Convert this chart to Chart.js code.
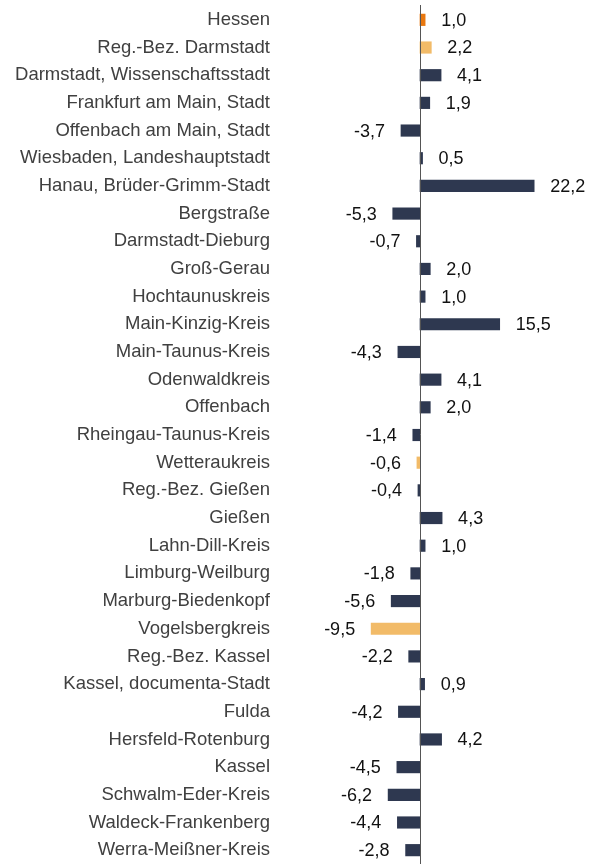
<!DOCTYPE html>
<html>
<head>
<meta charset="utf-8">
<script src="https://cdn.jsdelivr.net/npm/chart.js@4.4.0/dist/chart.umd.min.js"></script>
<style>
  body { margin: 0; background: #fff; }
</style>
</head>
<body>
<canvas id="myChart" width="604" height="864"></canvas>
<script>
// Kreise und Regierungsbezirke
const regionen = [
  "Hessen",
  "Reg.-Bez. Darmstadt",
  "Darmstadt, Wissenschaftsstadt",
  "Frankfurt am Main, Stadt",
  "Offenbach am Main, Stadt",
  "Wiesbaden, Landeshauptstadt",
  "Hanau, Brüder-Grimm-Stadt",
  "Bergstraße",
  "Darmstadt-Dieburg",
  "Groß-Gerau",
  "Hochtaunuskreis",
  "Main-Kinzig-Kreis",
  "Main-Taunus-Kreis",
  "Odenwaldkreis",
  "Offenbach",
  "Rheingau-Taunus-Kreis",
  "Wetteraukreis",
  "Reg.-Bez. Gießen",
  "Gießen",
  "Lahn-Dill-Kreis",
  "Limburg-Weilburg",
  "Marburg-Biedenkopf",
  "Vogelsbergkreis",
  "Reg.-Bez. Kassel",
  "Kassel, documenta-Stadt",
  "Fulda",
  "Hersfeld-Rotenburg",
  "Kassel",
  "Schwalm-Eder-Kreis",
  "Waldeck-Frankenberg",
  "Werra-Meißner-Kreis",
];

// Veränderung in %
const werte = [
  1.0, 2.2, 4.1, 1.9, -3.7, 0.5, 22.2, -5.3, -0.7, 2.0, 1.0, 15.5, -4.3,
  4.1, 2.0, -1.4, -0.6, -0.4, 4.3, 1.0, -1.8, -5.6, -9.5, -2.2, 0.9, -4.2,
  4.2, -4.5, -6.2, -4.4, -2.8,
];

// Farben
const NAVY = "#2e3850";
const ORANGE = "#e8770f";
const LIGHT = "#f2bb68";

function barColor(name) {
  if (name === "Hessen") return ORANGE;
  if (name === "Reg.-Bez. Darmstadt" || name === "Wetteraukreis" || name === "Vogelsbergkreis") return LIGHT;
  return NAVY;
}

const FONT = "'Liberation Sans', Arial, sans-serif";

// Zahlen neben die Balken schreiben
const valueLabels = {
  id: "valueLabels",
  afterDatasetsDraw(chart) {
    const ctx = chart.ctx;
    const meta = chart.getDatasetMeta(0);
    ctx.save();
    ctx.font = "18px " + FONT;
    ctx.fillStyle = "#111111";
    ctx.textBaseline = "middle";
    meta.data.forEach((bar, i) => {
      const v = werte[i];
      const txt = v.toFixed(1).replace(".", ",");
      if (v >= 0) {
        ctx.textAlign = "left";
        ctx.fillText(txt, bar.x + 16, bar.y + 1);
      } else {
        ctx.textAlign = "right";
        ctx.fillText(txt, bar.x - 16, bar.y + 1);
      }
    });
    ctx.restore();
  },
};

// Null-Linie
const zeroLine = {
  id: "zeroLine",
  afterDatasetsDraw(chart) {
    const ctx = chart.ctx;
    const x = Math.round(chart.scales.x.getPixelForValue(0)) + 0.5;
    ctx.save();
    ctx.strokeStyle = "#555555";
    ctx.lineWidth = 1;
    ctx.beginPath();
    ctx.moveTo(x, chart.chartArea.top - 1);
    ctx.lineTo(x, chart.chartArea.bottom);
    ctx.stroke();
    ctx.restore();
  },
};

const ctx = document.getElementById("myChart").getContext("2d");
new Chart(ctx, {
  type: "bar",
  data: {
    labels: regionen,
    datasets: [
      {
        data: werte,
        backgroundColor: regionen.map(barColor),
        barThickness: 11.5,
      },
    ],
  },
  options: {
    indexAxis: "y",
    responsive: false,
    maintainAspectRatio: false,
    animation: false,
    layout: { padding: { top: 6, right: 4, bottom: 0, left: 0 } },
    plugins: {
      legend: { display: false },
      tooltip: { enabled: false },
    },
    scales: {
      x: {
        display: false,
        min: -28,
        max: 35,
      },
      y: {
        grid: { display: false, drawTicks: false },
        border: { display: false },
        ticks: {
          padding: 6,
          color: "#404040",
          font: { family: FONT, size: 18.5 },
        },
        afterFit(scale) {
          scale.width = 276;
          scale.paddingTop = 0;
          scale.paddingBottom = 0;
        },
      },
    },
  },
  plugins: [zeroLine, valueLabels],
});
</script>
</body>
</html>
